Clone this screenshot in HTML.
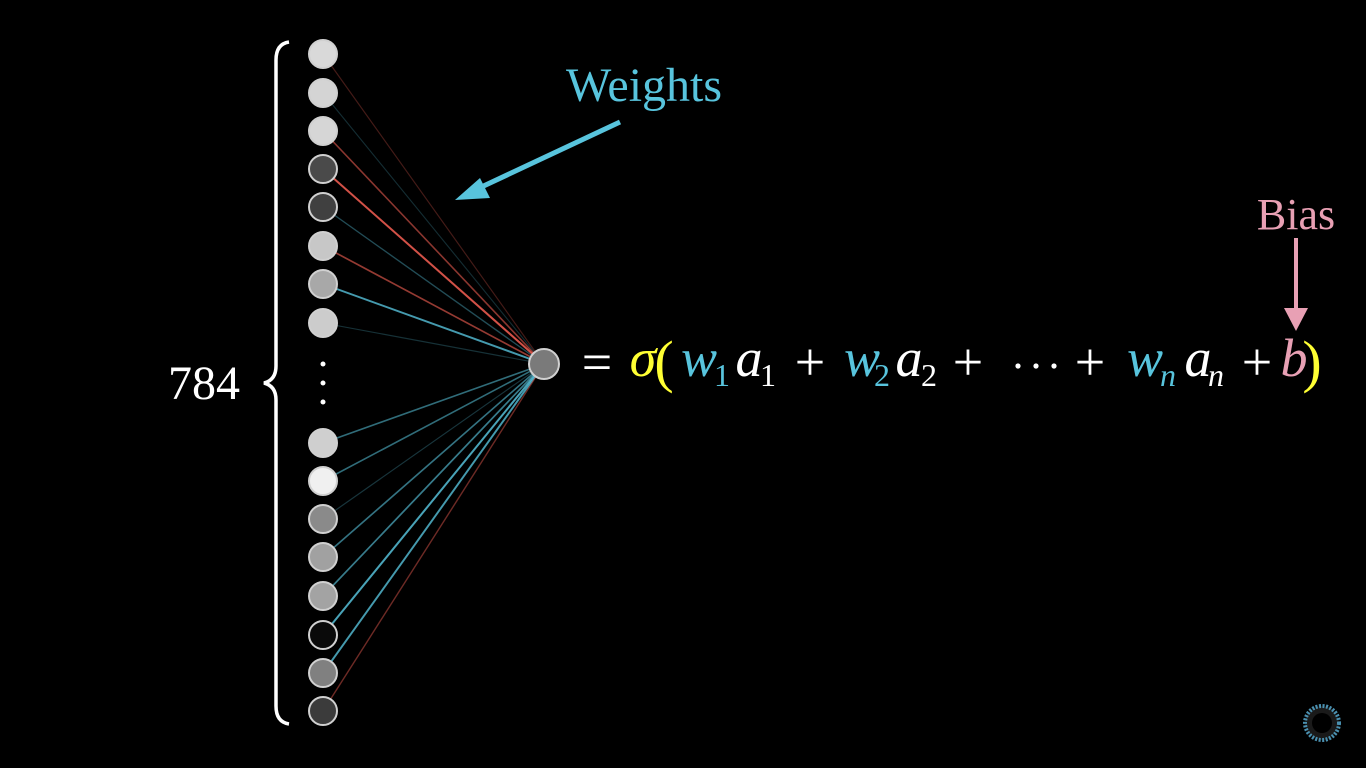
<!DOCTYPE html>
<html><head><meta charset="utf-8"><style>
html,body{margin:0;padding:0;background:#000;width:1366px;height:768px;overflow:hidden}
svg{display:block}
text{font-family:"Liberation Serif",serif}
</style></head><body>
<svg id="chart" width="1366" height="768" viewBox="0 0 1366 768">
<g id="links"></g>
<g id="neurons"></g>
<circle cx="544" cy="364" r="15" fill="#7a7a7a" stroke="#d0d0d0" stroke-width="2"/>
<g fill="#fff">
<circle cx="323" cy="364" r="2.5"/><circle cx="323" cy="383" r="2.5"/><circle cx="323" cy="402" r="2.5"/>
</g>
<path d="M289,42 Q276,44 276,60 L276,366 Q276,380 264,383 Q276,386 276,400 L276,706 Q276,722 289,724" fill="none" stroke="#fff" stroke-width="3.5"/>
<text x="168" y="399" font-size="48" fill="#fff">784</text>
<text x="644" y="101" font-size="48" fill="#58c4dd" text-anchor="middle">Weights</text>
<g>
<line x1="620" y1="122" x2="475" y2="190" stroke="#58c4dd" stroke-width="5"/>
<polygon points="455,200 480,178 490,198" fill="#58c4dd"/>
</g>
<text x="1296" y="229" font-size="44" fill="#e8a0b4" text-anchor="middle">Bias</text>
<g>
<line x1="1296" y1="238" x2="1296" y2="312" stroke="#e8a0b4" stroke-width="4"/>
<polygon points="1284,308 1308,308 1296,331" fill="#e8a0b4"/>
</g>
<g font-size="54" fill="#fff" text-anchor="middle">
<text x="597" y="380">=</text>
<text x="643" y="376" fill="#ffff33" font-style="italic">σ</text>
<text x="664" y="381" fill="#ffff33" font-size="58">(</text>
<text x="699" y="376" fill="#58c4dd" font-style="italic">w</text><text x="722" y="386" fill="#58c4dd" font-size="32">1</text>
<text x="749" y="376" font-style="italic">a</text><text x="768" y="386" font-size="32">1</text>
<text x="810" y="380">+</text>
<text x="862" y="376" fill="#58c4dd" font-style="italic">w</text><text x="882" y="386" fill="#58c4dd" font-size="32">2</text>
<text x="909" y="376" font-style="italic">a</text><text x="929" y="386" font-size="32">2</text>
<text x="968" y="380">+</text>
<circle cx="1018" cy="366" r="2.6"/><circle cx="1036" cy="366" r="2.6"/><circle cx="1054" cy="366" r="2.6"/>
<text x="1090" y="380">+</text>
<text x="1145" y="376" fill="#58c4dd" font-style="italic">w</text><text x="1168" y="386" fill="#58c4dd" font-size="32" font-style="italic">n</text>
<text x="1198" y="376" font-style="italic">a</text><text x="1216" y="386" font-size="32" font-style="italic">n</text>
<text x="1257" y="380">+</text>
<text x="1294" y="376" fill="#e8a0b4" font-style="italic">b</text>
<text x="1312" y="381" fill="#ffff33" font-size="58">)</text>
</g>
<g>
<circle cx="1322" cy="723" r="17" fill="#1a1a1a" stroke="#4a90b0" stroke-width="4" stroke-dasharray="2 1.5"/>
<circle cx="1322" cy="723" r="10" fill="#000"/>
</g>
</svg>
<script>
const neuronY = [54, 93, 131, 169, 207, 246, 284, 323, 443, 481, 519, 557, 596, 635, 673, 711];
const activations = [0.85, 0.83, 0.84, 0.29, 0.25, 0.78, 0.66, 0.8, 0.81, 0.94, 0.54, 0.63, 0.64, 0.04, 0.5, 0.23];
const weights = [-0.15, 0.1, -0.5, -0.85, 0.3, -0.55, 0.8, 0.12, 0.5, 0.5, 0.15, 0.55, 0.6, 0.85, 0.8, -0.35];
const ns = 'http://www.w3.org/2000/svg';
const linkG = document.getElementById('links');
const nG = document.getElementById('neurons');
neuronY.forEach((y, i) => {
  const w = weights[i];
  const a = Math.abs(w);
  const col = w >= 0 ? '88,196,221' : '252,98,85';
  const ln = document.createElementNS(ns, 'line');
  ln.setAttribute('x1', 323); ln.setAttribute('y1', y);
  ln.setAttribute('x2', 544); ln.setAttribute('y2', 364);
  ln.setAttribute('stroke', `rgba(${col},${(0.15 + 0.8 * a).toFixed(2)})`);
  ln.setAttribute('stroke-width', (1 + 1.2 * a).toFixed(2));
  
  
  linkG.appendChild(ln);
  const c = document.createElementNS(ns, 'circle');
  const g = Math.round(activations[i] * 255);
  c.setAttribute('cx', 323); c.setAttribute('cy', y); c.setAttribute('r', 14);
  c.setAttribute('fill', `rgb(${g},${g},${g})`);
  c.setAttribute('stroke', '#d0d0d0'); c.setAttribute('stroke-width', 2);
  
  
  nG.appendChild(c);
});
</script>
</body></html>
